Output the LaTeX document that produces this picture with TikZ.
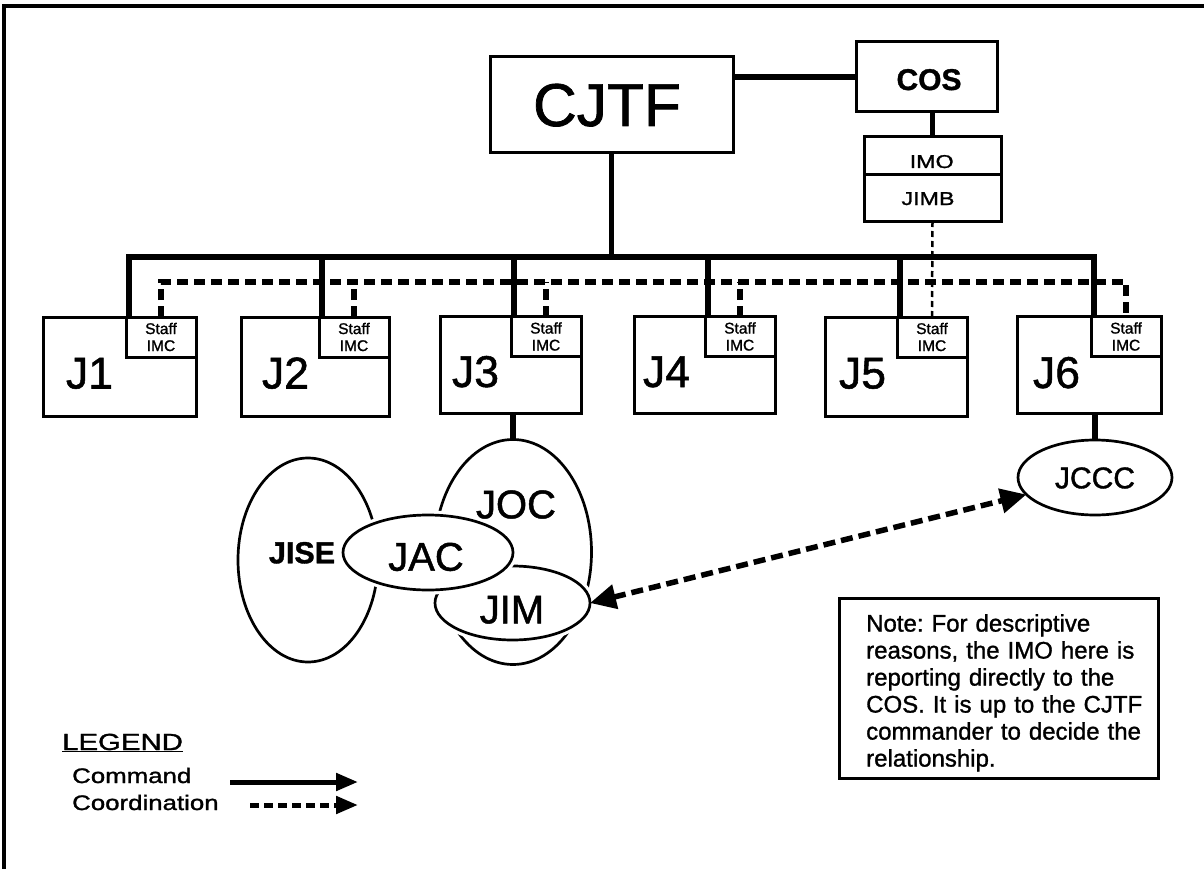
\documentclass[tikz,border=0pt]{standalone}
\usepackage{fontspec}
\setmainfont{Liberation Sans}[FakeBold=1.2]
\usepackage{graphicx}
\usetikzlibrary{shapes.geometric,arrows.meta,calc}

% size in px-like points: font size and baseline skip
\newcommand\pxfont[2]{\fontsize{#1}{#2}\selectfont}
% horizontally widened lettering
\newcommand\widen[2]{\scalebox{#1}[1]{#2}}
\frenchspacing

\begin{document}
\begin{tikzpicture}[x=1pt,y=-1pt,
  box/.style={draw, line width=3pt, fill=white, inner sep=0pt, outer sep=0pt},
  jbox/.style={box, minimum height=99pt},
  staffbox/.style={box, minimum width=70pt, minimum height=40pt, anchor=north east,
                   align=center, font=\pxfont{15.5}{17}},
  txt/.style={inner sep=0pt, outer sep=0pt, anchor=base},
  jlabel/.style={inner sep=0pt, outer sep=0pt, anchor=base west, font=\pxfont{44.5}{44.5}},
  org/.style={draw, ellipse, line width=2.7pt, inner sep=0pt, outer sep=0pt},
  halo/.style={preaction={draw=white, line width=9pt}, fill=white},
  cmdline/.style={line width=5.5pt},
  coordline/.style={line width=5.5pt, dash pattern=on 11pt off 6pt},
  infoline/.style={line width=2.5pt, dash pattern=on 6pt off 4pt},
  linkarrow/.style={line width=5.5pt, dash pattern=on 12pt off 6pt,
                    {Triangle[length=26pt,width=24pt]}-{Triangle[length=26pt,width=24pt]}},
  legendarrow/.style={line width=5pt, -{Triangle[length=22pt,width=17pt]}},
]
\useasboundingbox (0,0) rectangle (1204,869);
\fill[white] (0,0) rectangle (1204,869);

% outer frame (top and left edges)
\draw[line width=3.5pt] (4,869) -- (4,6) -- (1204,6);

% ---------- command staff ----------
\node[box, minimum width=243pt, minimum height=96pt] (cjtf) at (611.5,105) {};
\node[txt, font=\pxfont{60.5}{60.5}] (cjtft) at (607,126) {CJTF};

\node[box, minimum width=141pt, minimum height=70pt] (cos) at (926.5,77) {};
\node[txt, font=\bfseries\pxfont{30}{30}] (cost) at (929,90) {COS};

\node[box, minimum width=137pt, minimum height=38pt] (imo) at (932.5,156) {};
\node[box, minimum width=137pt, minimum height=46pt] (jimb) at (932.5,198) {};
\node[txt, font=\pxfont{18.6}{18.6}] (imot) at (931.7,168) {\widen{1.25}{IMO}};
\node[txt, font=\pxfont{18.6}{18.6}] (jimbt) at (928,205) {\widen{1.25}{JIMB}};

% ---------- J-staff directorates ----------
\node[jbox, minimum width=153pt] (j1) at (119.5,366.5) {};
\node[jbox, minimum width=148pt] (j2) at (315,366.5) {};
\node[jbox, minimum width=141pt, minimum height=97pt] (j3) at (510.5,365) {};
\node[jbox, minimum width=141pt, minimum height=97pt] (j4) at (704.5,365) {};
\node[jbox, minimum width=142pt] (j5) at (896,366.5) {};
\node[jbox, minimum width=144pt, minimum height=97pt] (j6) at (1089,365) {};

\foreach \i in {1,...,6}
  \node[staffbox] (s\i) at (j\i.north east) {Staff\\IMC};

\node[jlabel] (j1t) at (66,388.5) {J1};
\node[jlabel] (j2t) at (262,388.5) {J2};
\node[jlabel] (j3t) at (452,387) {J3};
\node[jlabel] (j4t) at (643,387) {J4};
\node[jlabel] (j5t) at (839,388.5) {J5};
\node[jlabel] (j6t) at (1033,388) {J6};

% ---------- centres ----------
\node[org, minimum width=140pt, minimum height=204pt] (jise) at (308,560) {};
\node[org, minimum width=157pt, minimum height=225pt] (joc) at (513,552) {};
\node[org, halo, minimum width=155pt, minimum height=74pt] (jim) at (512.5,603) {};
\node[org, halo, minimum width=170pt, minimum height=75pt] (jac) at (428,552.5) {};
\node[org, fill=white, minimum width=154pt, minimum height=75pt] (jccc) at (1095,477.5) {};

\node[txt, font=\bfseries\pxfont{30.5}{30.5}] (jiset) at (302,563.3) {JISE};
\node[txt, font=\pxfont{40}{40}] (joct) at (516,518.3) {JOC};
\node[txt, font=\pxfont{40}{40}] (jact) at (426,570.7) {JAC};
\node[txt, font=\pxfont{40}{40}] (jimt) at (512,623.3) {JIM};
\node[txt, font=\pxfont{30}{30}] (jccct) at (1095,488.3) {JCCC};

% ---------- command lines ----------
\coordinate (bus) at (0,257);
\coordinate (cline) at (0,282);
\foreach \i in {1,...,6}
  \path ([xshift=3pt]s\i.north west) coordinate (drop\i);

\draw[cmdline] (cos.west) -- (cos.west -| cjtf.east);
\draw[cmdline] (imo.north) -- (imo.north |- cos.south);
\draw[cmdline] (cjtf.south) -- (cjtf.south |- bus);
\draw[cmdline] (drop1) |- (bus -| drop6) -- (drop6);
\foreach \i in {2,...,5}
  \draw[cmdline] (drop\i) -- (drop\i |- bus);
\draw[cmdline] (joc.north) -- (joc.north |- j3.south);
\draw[cmdline] (jccc.north) -- (jccc.north |- j6.south);

% ---------- coordination lines ----------
\draw[coordline] (s1.north) |- (cline -| s6.north) -- (s6.north);
\foreach \i in {2,3,4}
  \draw[coordline] (s\i.north) -- (s\i.north |- cline);
\draw[infoline] (jimb.south) -- (s5.north);
\draw[linkarrow] (jim.east) -- (jccc);

% ---------- note ----------
\node[box, anchor=north west, minimum width=319pt, minimum height=180pt] (note) at (839,598) {};
\node[inner sep=0pt, anchor=north west, text width=280pt, align=left,
      font=\pxfont{24}{27}] (notet) at (866,614) {Note: For descriptive\\
reasons, the IMO here is\\
reporting directly to the\\
COS. It is up to the CJTF\\
commander to decide the\\
relationship.};

% ---------- legend ----------
\node[inner sep=0pt, anchor=base west, font=\pxfont{23.3}{23.3}] (legend) at (62,750)
  {\widen{1.26}{\underline{LEGEND}}};
\node[inner sep=0pt, anchor=base west, font=\pxfont{21}{21}] (cmdt) at (72,783)
  {\widen{1.23}{Command}};
\node[inner sep=0pt, anchor=base west, font=\pxfont{21}{21}] (coordt) at (72,810)
  {\widen{1.23}{Coordination}};
\coordinate (cmdA) at (230,782);
\coordinate (cmdB) at (358,782);
\coordinate (coA) at (250,805);
\coordinate (coB) at (358,805);
\draw[legendarrow] (cmdA) -- (cmdB);
\draw[legendarrow, dash pattern=on 9pt off 5pt] (coA) -- (coB);
\end{tikzpicture}
\end{document}
